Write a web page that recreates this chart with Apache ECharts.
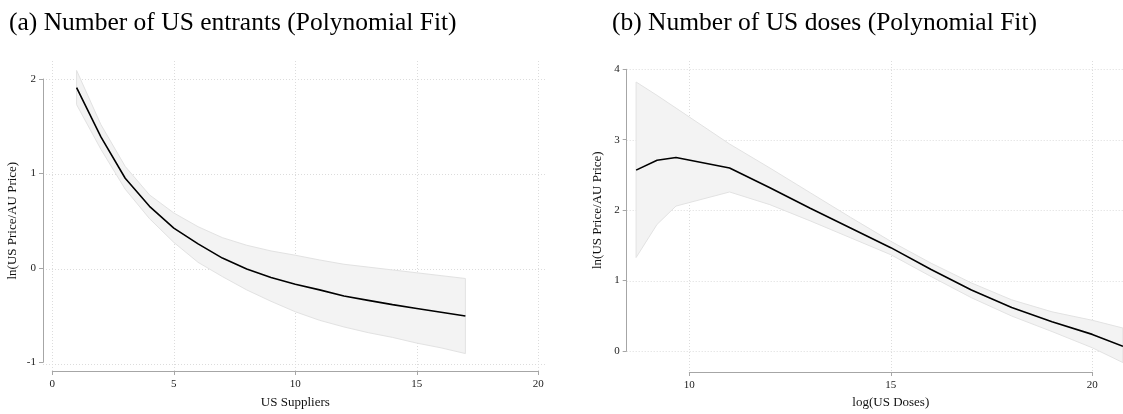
<!DOCTYPE html>
<html><head><meta charset="utf-8">
<script src="https://cdn.jsdelivr.net/npm/echarts@6/dist/echarts.min.js"></script>
<style>html,body{margin:0;padding:0;background:#fff}#c{width:1123px;height:414px}</style>
</head><body><div id="c"></div>
<script>
// ---- texts ----
const titleA = '(a) Number of US entrants (Polynomial Fit)';
const titleB = '(b) Number of US doses (Polynomial Fit)';
const xNameA = 'US Suppliers';
const xNameB = 'log(US Doses)';
const yNameA = 'ln(US Price/AU Price)';
const yNameB = 'ln(US Price/AU Price)';
// ---- tick values ----
const xTicksA = [0, 5, 10, 15, 20];
const yTicksA = [-1, 0, 1, 2];
const xTicksB = [10, 15, 20];
const yTicksB = [0, 1, 2, 3, 4];
// ---- panel (a) data ----
const xsA  = [1, 2, 3, 4, 5, 6, 7, 8, 9, 10, 11, 12, 13, 14, 15, 16, 17];
const midA = [1.91, 1.39, 0.955, 0.66, 0.43, 0.265, 0.115, 0.0, -0.09, -0.16, -0.22, -0.285, -0.33, -0.375, -0.415, -0.455, -0.495];
const hiA  = [2.09, 1.52, 1.08, 0.78, 0.59, 0.445, 0.33, 0.25, 0.19, 0.145, 0.095, 0.05, 0.02, -0.01, -0.04, -0.07, -0.10];
const loA  = [1.73, 1.26, 0.84, 0.53, 0.28, 0.07, -0.08, -0.22, -0.34, -0.45, -0.54, -0.61, -0.67, -0.72, -0.78, -0.83, -0.89];
// ---- panel (b) data ----
const xsB  = [8.68, 9.2, 9.67, 11.0, 12, 13, 14, 15, 16, 17, 18, 19, 20, 20.76];
const midB = [2.57, 2.71, 2.75, 2.60, 2.32, 2.03, 1.75, 1.47, 1.16, 0.87, 0.62, 0.42, 0.24, 0.07];
const hiB  = [3.82, 3.63, 3.45, 2.94, 2.60, 2.25, 1.90, 1.56, 1.25, 0.97, 0.73, 0.56, 0.44, 0.33];
const loB  = [1.33, 1.80, 2.06, 2.26, 2.08, 1.85, 1.61, 1.37, 1.06, 0.76, 0.50, 0.28, 0.05, -0.16];

// ---- layout (pixels) ----
const LA = {tx0: 52.3, tx1: 538.3, ty0: 79, ty1: 364, px0: 43, px1: 547, py0: 61, py1: 372.7};
const LB = {tx0: 689.3, tx1: 1092.3, ty0: 69.3, ty1: 351.3, px0: 626.7, px1: 1123, py0: 61, py1: 372.3};

const SERIF = 'Liberation Serif';
const axisColor = '#a6a6a6';
const gridColor = '#dcdcdc';

function extent(L, xt, yt) {
  const xmin = xt[0], xmax = xt[xt.length - 1], ymin = yt[0], ymax = yt[yt.length - 1];
  const sx = (L.tx1 - L.tx0) / (xmax - xmin);
  const sy = (L.ty1 - L.ty0) / (ymax - ymin);
  return {
    x0: xmin - (L.tx0 - L.px0) / sx, x1: xmax + (L.px1 - L.tx1) / sx,
    y1: ymax + (L.ty0 - L.py0) / sy, y0: ymin - (L.py1 - L.ty1) / sy
  };
}
const EA = extent(LA, xTicksA, yTicksA);
const EB = extent(LB, xTicksB, yTicksB);

const zip = (a, b) => a.map((v, i) => [v, b[i]]);

function plotX(E, ticks, gi) {
  return {type: 'value', gridIndex: gi, min: E.x0, max: E.x1,
    axisLine: {show: false}, axisTick: {show: false, customValues: ticks}, axisLabel: {show: false},
    splitLine: {show: true, lineStyle: {type: [1, 2], color: gridColor, width: 1}}};
}
function plotY(E, ticks, gi) {
  return {type: 'value', gridIndex: gi, min: E.y0, max: E.y1,
    axisLine: {show: false}, axisTick: {show: false, customValues: ticks}, axisLabel: {show: false},
    splitLine: {show: true, lineStyle: {type: [1, 2], color: gridColor, width: 1}}};
}
function axX(ticks, gi, off, name, gap) {
  return {type: 'value', gridIndex: gi, min: ticks[0], max: ticks[ticks.length - 1], interval: ticks[1] - ticks[0],
    offset: off, position: 'bottom',
    axisLine: {show: true, onZero: false, lineStyle: {color: axisColor, width: 1}},
    axisTick: {show: true, length: 4, lineStyle: {color: axisColor}},
    axisLabel: {margin: 8, fontFamily: SERIF, fontSize: 11, color: '#222', showMinLabel: true, showMaxLabel: true},
    splitLine: {show: false},
    name: name, nameLocation: 'middle', nameGap: gap,
    nameTextStyle: {fontFamily: SERIF, fontSize: 13, color: '#111'}};
}
function axY(ticks, gi, off, name, gap) {
  return {type: 'value', gridIndex: gi, min: ticks[0], max: ticks[ticks.length - 1], interval: ticks[1] - ticks[0],
    offset: off, position: 'left',
    axisLine: {show: true, onZero: false, lineStyle: {color: axisColor, width: 1}},
    axisTick: {show: true, length: 4, lineStyle: {color: axisColor}},
    axisLabel: {margin: 7, fontFamily: SERIF, fontSize: 11, color: '#222', showMinLabel: true, showMaxLabel: true},
    splitLine: {show: false},
    name: name, nameLocation: 'middle', nameGap: gap,
    nameTextStyle: {fontFamily: SERIF, fontSize: 13, color: '#111'}};
}
function band(xs, lo, hi, mid, ai) {
  return [
    {type: 'custom', xAxisIndex: ai, yAxisIndex: ai, data: [[xs[0], hi[0]]], z: 2, silent: true,
      renderItem: function (params, api) {
        const pts = [];
        for (let i = 0; i < xs.length; i++) pts.push(api.coord([xs[i], hi[i]]));
        for (let i = xs.length - 1; i >= 0; i--) pts.push(api.coord([xs[i], lo[i]]));
        const cs = params.coordSys;
        return {type: 'polygon', shape: {points: pts},
          style: {fill: '#f3f3f3', stroke: '#e2e2e2', lineWidth: 1},
          clipPath: {type: 'rect', shape: {x: cs.x, y: cs.y, width: cs.width, height: cs.height}}};
      }},
    {type: 'line', xAxisIndex: ai, yAxisIndex: ai, data: zip(xs, mid), symbol: 'none',
      lineStyle: {color: '#000', width: 1.6}, z: 3, silent: true}
  ];
}
const gridOf = (l, t, r, b) => ({left: l, top: t, width: r - l, height: b - t, containLabel: false});

const option = {
  animation: false,
  backgroundColor: '#fff',
  title: [
    {text: titleA, left: 4, top: 5, textStyle: {fontFamily: SERIF, fontSize: 25.5, fontWeight: 'normal', color: '#000'}},
    {text: titleB, left: 607, top: 5, textStyle: {fontFamily: SERIF, fontSize: 25.5, fontWeight: 'normal', color: '#000'}}
  ],
  grid: [
    gridOf(LA.px0, LA.py0, LA.px1, LA.py1),
    gridOf(LA.tx0, LA.ty0, LA.tx1, LA.ty1),
    gridOf(LB.px0, LB.py0, LB.px1, LB.py1),
    gridOf(LB.tx0, LB.ty0, LB.tx1, LB.ty1)
  ],
  xAxis: [
    plotX(EA, xTicksA, 0),
    axX(xTicksA, 1, LA.py1 - LA.ty1, xNameA, 25),
    plotX(EB, xTicksB, 2),
    axX(xTicksB, 3, LB.py1 - LB.ty1, xNameB, 24)
  ],
  yAxis: [
    plotY(EA, yTicksA, 0),
    axY(yTicksA, 1, LA.tx0 - LA.px0, yNameA, 24),
    plotY(EB, yTicksB, 2),
    axY(yTicksB, 3, LB.tx0 - LB.px0, yNameB, 23)
  ],
  series: [].concat(band(xsA, loA, hiA, midA, 0), band(xsB, loB, hiB, midB, 2))
};
echarts.init(document.getElementById('c'), null, {renderer: 'canvas'}).setOption(option);
</script></body></html>
